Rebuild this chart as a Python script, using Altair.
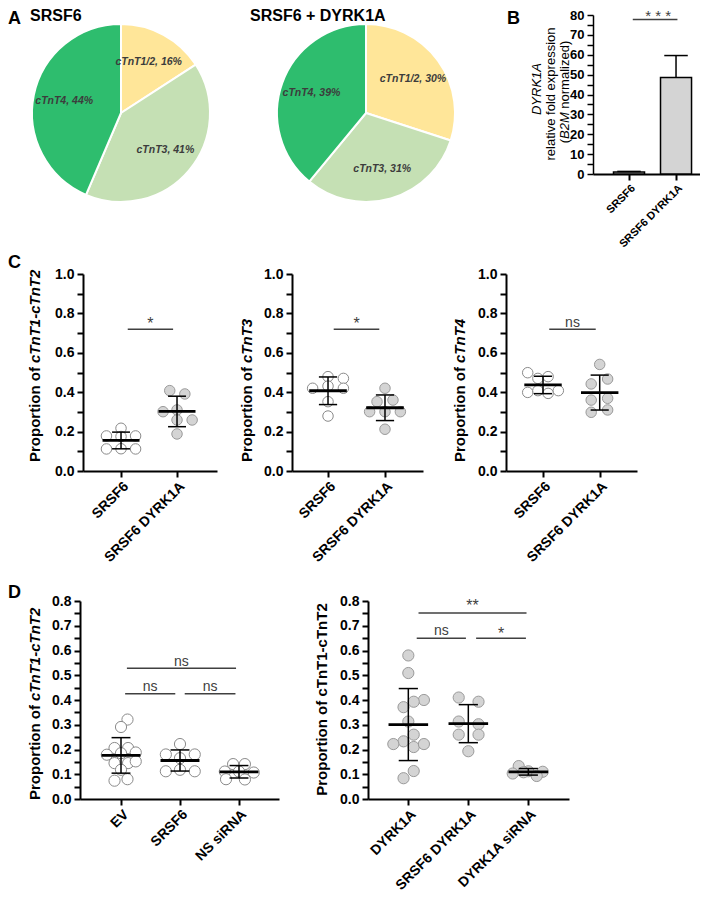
import altair as alt
import pandas as pd

FONT = "Liberation Sans"

# ---------------- Panel A ----------------
iso_names = ["cTnT1/2", "cTnT3", "cTnT4"]
pie1_pct = [16, 41, 44]
pie2_pct = [30, 31, 39]
pie_titles = ["SRSF6", "SRSF6 + DYRK1A"]
pie_colors = ["#FFE699", "#C5E0B4", "#2EBD6E"]

# ---------------- Panel B ----------------
b_names = ["SRSF6", "SRSF6 DYRK1A"]
b_mean = [1.0, 48.6]
b_sd = [0.3, 11.0]

# ---------------- Panel C ----------------
c_names = ["SRSF6", "SRSF6 DYRK1A"]
c1_a = [0.217, 0.178, 0.175, 0.178, 0.112, 0.113, 0.112]
c1_a_jit = [0, -0.26, 0, 0.26, -0.26, 0, 0.26]
c1_b = [0.408, 0.391, 0.301, 0.310, 0.259, 0.259, 0.188]
c1_b_jit = [-0.13, 0.14, -0.25, 0, 0, 0.27, 0]
c2_a = [0.479, 0.470, 0.420, 0.431, 0.420, 0.352, 0.279]
c2_a_jit = [0, 0.27, -0.27, 0, 0.27, 0, 0]
c2_b = [0.420, 0.352, 0.360, 0.301, 0.301, 0.301, 0.212]
c2_b_jit = [0, -0.14, 0.14, -0.27, 0, 0.27, 0]
c3_a = [0.499, 0.470, 0.479, 0.399, 0.408, 0.394, 0.408]
c3_a_jit = [-0.27, -0.09, 0.09, -0.27, -0.09, 0.09, 0.27]
c3_b = [0.541, 0.442, 0.467, 0.360, 0.369, 0.298, 0.310]
c3_b_jit = [0, -0.15, 0.14, -0.15, 0.14, -0.15, 0.14]
c_sig = ["*", "*", "ns"]

# ---------------- Panel D ----------------
d1_names = ["EV", "SRSF6", "NS siRNA"]
d1_ev = [0.321, 0.291, 0.206, 0.206, 0.179, 0.185, 0.188, 0.145, 0.145, 0.152, 0.118, 0.074, 0.080]
d1_ev_jit = [0.11, 0, -0.11, 0.12, -0.24, 0, 0.25, -0.11, 0.12, 0.25, 0, -0.11, 0.11]
d1_srsf6 = [0.222, 0.180, 0.180, 0.165, 0.112, 0.118, 0.112]
d1_srsf6_jit = [0, -0.24, 0.25, 0, -0.24, 0, 0.25]
d1_ns = [0.141, 0.141, 0.111, 0.111, 0.107, 0.080, 0.079]
d1_ns_jit = [-0.1, 0.1, -0.24, 0.0, 0.25, -0.22, 0.1]
d1_sig = [(1.10, 2.95, 0.528, "ns", 0.537), (1.07, 1.92, 0.425, "ns", 0.436), (2.08, 2.94, 0.425, "ns", 0.436)]

d2_names = ["DYRK1A", "SRSF6 DYRK1A", "DYRK1A siRNA"]
d2_dyrk = [0.58, 0.509, 0.40, 0.393, 0.371, 0.313, 0.26, 0.233, 0.222, 0.21, 0.222, 0.113, 0.084]
d2_dyrk_jit = [0, 0, 0.26, 0.09, -0.08, 0, 0.09, -0.08, -0.25, 0.09, 0.26, 0.09, -0.08]
d2_sd = [0.41, 0.393, 0.313, 0.302, 0.26, 0.26, 0.193]
d2_sd_jit = [-0.16, 0.17, -0.16, 0.17, -0.16, 0.17, 0]
d2_si = [0.133, 0.103, 0.112, 0.110, 0.093, 0.108]
d2_si_jit = [-0.16, -0.26, 0.0, 0.24, 0.14, -0.08]
d2_sig = [(1.17, 2.97, 0.752, "**", 0.759), (1.14, 1.96, 0.65, "ns", 0.662), (2.13, 2.96, 0.65, "*", 0.648)]

# ---------------- layout constants ----------------
H1, H2, H3 = 159, 297, 328          # row heights
W1, W2, W3 = 212, 214, 194          # column widths (columns are aligned across rows)


def txt(s, x, y, size=14, weight="normal", style="normal", align="left", baseline="alphabetic", angle=0, color="black"):
    return alt.Chart(pd.DataFrame({"t": [s]})).mark_text(
        font=FONT, fontSize=size, fontWeight=weight, fontStyle=style, align=align,
        baseline=baseline, angle=angle, color=color
    ).encode(text="t:N", x=alt.value(x), y=alt.value(y))


def x_axis(names, size=14):
    expr = "[" + ",".join("'%s'" % n for n in names) + "][round(datum.value) - 1]"
    return alt.Axis(values=list(range(1, len(names) + 1)), labelExpr=expr, labelAngle=-45,
                    title=None, grid=False, domainColor="black", domainWidth=2, tickColor="black",
                    tickWidth=2, tickSize=6, labelFont=FONT, labelFontSize=size, labelFontWeight="bold",
                    labelColor="black", labelOverlap=False, labelFlush=False, labelPadding=2)


def y_axis(ymax, tick_step, lab_step, fmt, offset=0, size=14, width=2):
    n = int(round(ymax / tick_step))
    vals = [round(i * tick_step, 4) for i in range(n + 1)]
    ratio = int(round(lab_step / tick_step))
    expr = "round(datum.value / %s) %% %d == 0 ? datum.label : ''" % (tick_step, ratio)
    return alt.Axis(values=vals, format=fmt, labelExpr=expr, title=None, grid=False,
                    domainColor="black", domainWidth=width, tickColor="black", tickWidth=width,
                    tickSize=6, labelFont=FONT, labelFontSize=size, labelFontWeight="bold",
                    labelColor="black", labelOverlap=False, labelFlush=False, labelPadding=3,
                    offset=offset)


def pie_view(pcts, title, cx, W, title_x, letter=False):
    df = pd.DataFrame({"iso": iso_names, "pct": pcts, "k": list(range(len(pcts)))})
    base = alt.Chart(df).encode(
        theta=alt.Theta("pct:Q", stack=True),
        order=alt.Order("k:Q"),
        x=alt.value(cx), y=alt.value(98),
    )
    arc = base.mark_arc(outerRadius=89, stroke="white", strokeWidth=2).encode(
        color=alt.Color("iso:N", scale=alt.Scale(domain=iso_names, range=pie_colors), legend=None)
    )
    lab = base.transform_calculate(label="datum.iso + ', ' + datum.pct + '%'").mark_text(
        radius=58, font=FONT, fontSize=10.5, fontStyle="italic", fontWeight="bold", color="#3c3c3c"
    ).encode(text="label:N")
    layers = [arc, lab, txt(title, title_x, 6, size=16, weight="bold")]
    if letter:
        layers.append(txt("A", -72, 9, size=18, weight="bold"))
    return alt.layer(*layers).properties(width=W, height=H1)


def bar_view(x0, W):
    df = pd.DataFrame({"g": [1, 2], "m": b_mean, "s": b_sd})
    df["hi"] = df["m"] + df["s"]
    df["x1"] = df["g"] - 0.33
    df["x2"] = df["g"] + 0.33
    df["c1"] = df["g"] - 0.25
    df["c2"] = df["g"] + 0.25
    xs = alt.Scale(domain=[0.234, 2.51], range=[x0, x0 + 107], nice=False, zero=False)
    ys = alt.Scale(domain=[0, 80], nice=False)
    xa = x_axis(b_names, size=11)
    ya = y_axis(80, 5, 10, "d", offset=-x0, size=13, width=1.5)

    def X(f):
        return alt.X(f, scale=xs, axis=xa)

    def Y(f):
        return alt.Y(f, scale=ys, axis=ya)

    bars = alt.Chart(df).mark_bar(fill="#d4d4d4", stroke="black", strokeWidth=1.5).encode(
        x=X("x1:Q"), x2="x2:Q", y=Y("m:Q"), y2=alt.datum(0))
    err = alt.Chart(df).mark_rule(color="black", strokeWidth=1.5).encode(x=X("g:Q"), y=Y("m:Q"), y2="hi:Q")
    cap = alt.Chart(df).mark_rule(color="black", strokeWidth=1.5).encode(x=X("c1:Q"), x2="c2:Q", y=Y("hi:Q"))
    sdf = pd.DataFrame({"x1": [1.08], "x2": [2.03], "y": [77.7], "ty": [77.1], "xm": [1.62], "t": ["* * *"]})
    sline = alt.Chart(sdf).mark_rule(color="#404040", strokeWidth=1.5).encode(x=X("x1:Q"), x2="x2:Q", y=Y("y:Q"))
    stxt = alt.Chart(sdf).mark_text(font=FONT, fontSize=15, color="#404040", baseline="alphabetic").encode(
        x=X("xm:Q"), y=Y("ty:Q"), text="t:N")
    s = 124
    layers = [bars, err, cap, sline, stxt,
              txt("B", x0 - 86, 9, size=18, weight="bold"),
              txt("DYRK1A", x0 - 56, 74, size=13, style="italic", align="center", baseline="middle", angle=270),
              txt("relative fold expression", x0 - 42, 79, size=13, align="center", baseline="middle", angle=270),
              txt("(", x0 - 28, s, size=13, align="right", baseline="middle", angle=270),
              txt("B2M", x0 - 28, s, size=13, style="italic", align="left", baseline="middle", angle=270),
              txt("normalized)", x0 - 28, s - 26.7 - 3.6, size=13, align="left", baseline="middle", angle=270)]
    return alt.layer(*layers).properties(width=W, height=H1)


def dot_view(names, groups, kinds, xdom, xrng, ymax, tick_step, lab_step, yrng, W, H, sigs,
             title_plain, title_ital, title_x, title_y, italic=True, letter=None, yoff=0, size=110):
    rows = []
    for i, (vs, js, k) in enumerate(zip([g[0] for g in groups], [g[1] for g in groups], kinds)):
        for v, j in zip(vs, js):
            rows.append({"g": i + 1, "x": i + 1 + j, "v": v, "kind": k})
    pts = pd.DataFrame(rows)
    st = pts.groupby("g")["v"].agg(["mean", "std"]).reset_index()
    st["lo"] = st["mean"] - st["std"]
    st["hi"] = st["mean"] + st["std"]
    st["m1"] = st["g"] - 0.33
    st["m2"] = st["g"] + 0.33
    st["c1"] = st["g"] - 0.16
    st["c2"] = st["g"] + 0.16

    xs = alt.Scale(domain=xdom, range=xrng, nice=False, zero=False)
    ys = alt.Scale(domain=[0, ymax], range=yrng, nice=False, zero=False)
    xa = x_axis(names)
    ya = y_axis(ymax, tick_step, lab_step, ".1f", offset=yoff)

    def X(f):
        return alt.X(f, scale=xs, axis=xa)

    def Y(f):
        return alt.Y(f, scale=ys, axis=ya)

    p = alt.Chart(pts).mark_point(shape="circle", size=size, filled=True, opacity=1, strokeWidth=1).encode(
        x=X("x:Q"), y=Y("v:Q"),
        fill=alt.Fill("kind:N", scale=alt.Scale(domain=["open", "filled"], range=["white", "#d4d4d4"]), legend=None),
        stroke=alt.Stroke("kind:N", scale=alt.Scale(domain=["open", "filled"], range=["#8a8a8a", "#9a9a9a"]), legend=None),
    )
    mean = alt.Chart(st).mark_rule(color="black", strokeWidth=2.8).encode(x=X("m1:Q"), x2="m2:Q", y=Y("mean:Q"))
    whisk = alt.Chart(st).mark_rule(color="black", strokeWidth=1.5).encode(x=X("g:Q"), y=Y("lo:Q"), y2="hi:Q")
    caplo = alt.Chart(st).mark_rule(color="black", strokeWidth=1.5).encode(x=X("c1:Q"), x2="c2:Q", y=Y("lo:Q"))
    caphi = alt.Chart(st).mark_rule(color="black", strokeWidth=1.5).encode(x=X("c1:Q"), x2="c2:Q", y=Y("hi:Q"))

    sdf = pd.DataFrame([{"x1": a, "x2": b, "y": y, "t": t, "ty": ty, "xm": (a + b) / 2} for a, b, y, t, ty in sigs])
    sdf["fs"] = sdf["t"].map(lambda t: "ast" if "*" in t else "ns")
    sline = alt.Chart(sdf).mark_rule(color="#404040", strokeWidth=1.5).encode(x=X("x1:Q"), x2="x2:Q", y=Y("y:Q"))
    s_ast = alt.Chart(sdf).transform_filter("datum.fs == 'ast'").mark_text(
        font=FONT, fontSize=16, color="#404040", baseline="alphabetic").encode(x=X("xm:Q"), y=Y("ty:Q"), text="t:N")
    s_ns = alt.Chart(sdf).transform_filter("datum.fs == 'ns'").mark_text(
        font=FONT, fontSize=14, color="#404040", baseline="alphabetic").encode(x=X("xm:Q"), y=Y("ty:Q"), text="t:N")

    layers = [p, mean, whisk, caplo, caphi, sline, s_ast, s_ns]
    if italic:
        layers.append(txt(title_plain, title_x, title_y + 2, size=15, weight="bold", align="right",
                          baseline="middle", angle=270))
        layers.append(txt(title_ital, title_x, title_y - 2, size=15, weight="bold", style="italic",
                          align="left", baseline="middle", angle=270))
    else:
        layers.append(txt(title_plain + " " + title_ital, title_x, title_y, size=15, weight="bold",
                          align="center", baseline="middle", angle=270))
    if letter is not None:
        layers.append(txt(letter[0], -72, letter[1], size=18, weight="bold"))
    return alt.layer(*layers).properties(width=W, height=H)


# ---------------- build panels ----------------
# column starts on the page: 80, 292, 506
pie1 = pie_view(pie1_pct, pie_titles[0], 41, W1, -50, letter=True)
pie2 = pie_view(pie2_pct, pie_titles[1], 74, W2, -42)
barB = bar_view(87, W3)

c_kinds = ["open", "filled"]
c1 = dot_view(c_names, [(c1_a, c1_a_jit), (c1_b, c1_b_jit)], c_kinds, [0.321, 2.714], [3, 137],
              1.0, 0.1, 0.2, [H2, H2 - 197], W1, H2, [(1.12, 1.93, 0.72, c_sig[0], 0.72)],
              "Proportion of", "cTnT1-cTnT2", -45, 191, letter=("C", 94), yoff=-3)
c2 = dot_view(c_names, [(c2_a, c2_a_jit), (c2_b, c2_b_jit)], c_kinds, [0.368, 2.667], [0, 131],
              1.0, 0.1, 0.2, [H2, H2 - 197], W2, H2, [(1.10, 1.90, 0.72, c_sig[1], 0.72)],
              "Proportion of", "cTnT3", -45, 191)
c3 = dot_view(c_names, [(c3_a, c3_a_jit), (c3_b, c3_b_jit)], c_kinds, [0.347, 2.658], [0, 131],
              1.0, 0.1, 0.2, [H2, H2 - 197], W3, H2, [(1.11, 1.93, 0.72, c_sig[2], 0.7325)],
              "Proportion of", "cTnT4", -46, 191)

d1 = dot_view(d1_names, [(d1_ev, d1_ev_jit), (d1_srsf6, d1_srsf6_jit), (d1_ns, d1_ns_jit)],
              ["open", "open", "open"], [0.305, 3.678], [0, 199], 0.8, 0.05, 0.1, [H3, H3 - 198],
              W1, H3, d1_sig, "Proportion of", "cTnT1-cTnT2", -45, 232, letter=("D", 127), size=125)
d2 = dot_view(d2_names, [(d2_dyrk, d2_dyrk_jit), (d2_sd, d2_sd_jit), (d2_si, d2_si_jit)],
              ["filled", "filled", "filled"], [0.328, 3.678], [76, 277], 0.8, 0.05, 0.1, [H3, H3 - 198],
              W2, H3, d2_sig, "Proportion of", "cTnT1-cTnT2", 30, 228.5, italic=False, yoff=-76, size=125)

chart = alt.concat(pie1, pie2, barB, c1, c2, c3, d1, d2, columns=3, spacing=0,
                   bounds="flush").properties(padding=0).configure_view(stroke=None)

chart.save("out.html", embed_options={"renderer": "svg", "actions": False})
